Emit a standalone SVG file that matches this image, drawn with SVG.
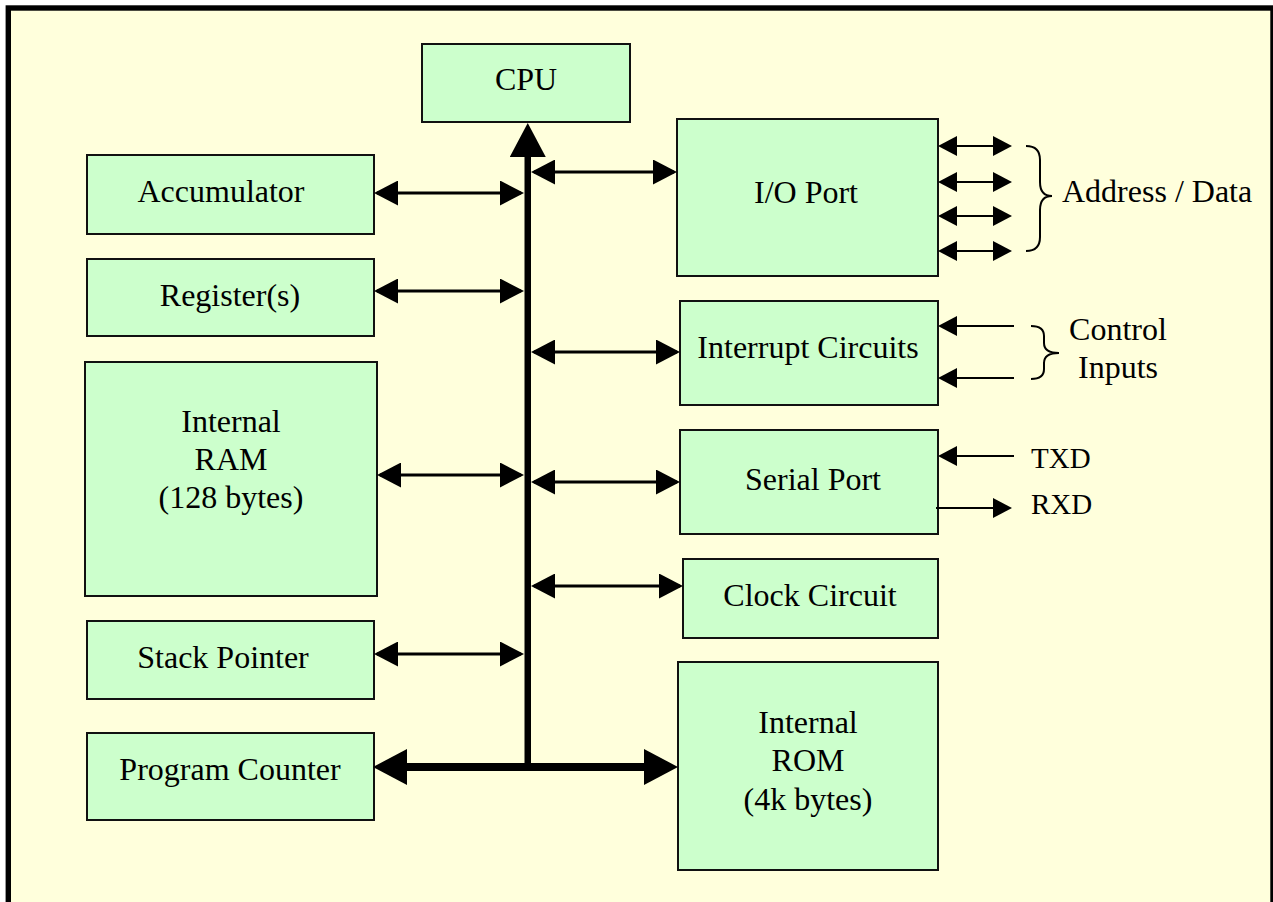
<svg xmlns="http://www.w3.org/2000/svg" width="1273" height="902" viewBox="0 0 1273 902">
<style>
.box{fill:#CCFFCC;stroke:#111;stroke-width:2}
.t{font-family:"Liberation Serif","Times New Roman",serif;font-size:32px;fill:#000;text-anchor:middle}
.ts{font-family:"Liberation Serif","Times New Roman",serif;font-size:29px;fill:#000}
.c3{stroke:#000;stroke-width:3;fill:none}
.c2{stroke:#000;stroke-width:2;fill:none}
.c8{stroke:#000;stroke-width:8;fill:none}
.br{stroke:#000;stroke-width:2;fill:none}
</style>
<defs>
<marker id="m" markerUnits="userSpaceOnUse" markerWidth="24" markerHeight="25" refX="21" refY="12.5" orient="auto-start-reverse"><path d="M0,0 L24,12.5 L0,25 z" fill="#000"/></marker>
<marker id="s" markerUnits="userSpaceOnUse" markerWidth="19" markerHeight="20" refX="17" refY="10" orient="auto-start-reverse"><path d="M0,0 L19,10 L0,20 z" fill="#000"/></marker>
<marker id="L" markerUnits="userSpaceOnUse" markerWidth="34" markerHeight="36" refX="26" refY="18" orient="auto-start-reverse"><path d="M0,0 L34,18 L0,36 z" fill="#000"/></marker>
</defs>
<rect x="0" y="0" width="1273" height="902" fill="#fff"/>
<rect x="8.3" y="8" width="1264.7" height="920" fill="#FFFFDC" stroke="#000" stroke-width="5.4"/>

<g id="cpu"><rect class="box" x="422" y="44" width="208" height="78"/><text class="t" x="526" y="90">CPU</text></g>
<g id="accumulator"><rect class="box" x="87" y="155" width="287" height="79"/><text class="t" x="221" y="202">Accumulator</text></g>
<g id="registers"><rect class="box" x="87" y="259" width="287" height="77"/><text class="t" x="230" y="306">Register(s)</text></g>
<g id="ram"><rect class="box" x="85" y="362" width="292" height="234"/><text class="t" x="231" y="432">Internal</text><text class="t" x="231" y="470">RAM</text><text class="t" x="231" y="508">(128 bytes)</text></g>
<g id="stack-pointer"><rect class="box" x="87" y="621" width="287" height="78"/><text class="t" x="223" y="668">Stack Pointer</text></g>
<g id="program-counter"><rect class="box" x="87" y="733" width="287" height="87"/><text class="t" x="230" y="780">Program Counter</text></g>
<g id="io-port"><rect class="box" x="677" y="119" width="261" height="157"/><text class="t" x="806" y="203">I/O Port</text></g>
<g id="interrupt"><rect class="box" x="680" y="301" width="258" height="104"/><text class="t" x="808" y="358">Interrupt Circuits</text></g>
<g id="serial-port"><rect class="box" x="680" y="430" width="258" height="104"/><text class="t" x="813" y="490">Serial Port</text></g>
<g id="clock"><rect class="box" x="683" y="559" width="255" height="79"/><text class="t" x="810" y="606">Clock Circuit</text></g>
<g id="rom"><rect class="box" x="678" y="662" width="260" height="208"/><text class="t" x="808" y="733">Internal</text><text class="t" x="808" y="771">ROM</text><text class="t" x="808" y="810">(4k bytes)</text></g>

<g id="labels">
<text class="t" x="1062" y="202" style="text-anchor:start">Address / Data</text>
<text class="t" x="1118" y="340">Control</text>
<text class="t" x="1118" y="378">Inputs</text>
<text class="ts" x="1031" y="468">TXD</text>
<text class="ts" x="1031" y="514">RXD</text>
</g>

<g id="connectors">
<line x1="527.75" y1="771" x2="527.75" y2="131" stroke="#000" stroke-width="6.5" marker-end="url(#L)"/>
<line class="c8" x1="381" y1="767" x2="670" y2="767" marker-start="url(#L)" marker-end="url(#L)"/>
<line class="c3" x1="377" y1="193" x2="521" y2="193" marker-start="url(#m)" marker-end="url(#m)"/>
<line class="c3" x1="377" y1="291" x2="521" y2="291" marker-start="url(#m)" marker-end="url(#m)"/>
<line class="c3" x1="380" y1="475" x2="521" y2="475" marker-start="url(#m)" marker-end="url(#m)"/>
<line class="c3" x1="377" y1="654" x2="521" y2="654" marker-start="url(#m)" marker-end="url(#m)"/>
<line class="c3" x1="534" y1="172" x2="674" y2="172" marker-start="url(#m)" marker-end="url(#m)"/>
<line class="c3" x1="534" y1="352" x2="677" y2="352" marker-start="url(#m)" marker-end="url(#m)"/>
<line class="c3" x1="534" y1="482" x2="677" y2="482" marker-start="url(#m)" marker-end="url(#m)"/>
<line class="c3" x1="534" y1="586" x2="680" y2="586" marker-start="url(#m)" marker-end="url(#m)"/>
<line class="c2" x1="940" y1="146" x2="1010" y2="146" marker-start="url(#s)" marker-end="url(#s)"/>
<line class="c2" x1="940" y1="182" x2="1010" y2="182" marker-start="url(#s)" marker-end="url(#s)"/>
<line class="c2" x1="940" y1="216" x2="1010" y2="216" marker-start="url(#s)" marker-end="url(#s)"/>
<line class="c2" x1="940" y1="251" x2="1010" y2="251" marker-start="url(#s)" marker-end="url(#s)"/>
<line class="c2" x1="1014" y1="326" x2="940" y2="326" marker-end="url(#s)"/>
<line class="c2" x1="1014" y1="378" x2="940" y2="378" marker-end="url(#s)"/>
<line class="c2" x1="1014" y1="456" x2="940" y2="456" marker-end="url(#s)"/>
<line class="c2" x1="936" y1="508" x2="1010" y2="508" marker-end="url(#s)"/>
<path class="br" d="M1026,146 Q1040,146 1040,160 L1040,182 Q1040,196 1052,196 Q1040,196 1040,210 L1040,237 Q1040,251 1026,251"/>
<path class="br" d="M1031,326 Q1044,326 1044,336 L1044,343 Q1044,353 1059,353 Q1044,353 1044,363 L1044,369 Q1044,379 1031,379"/>
</g>
</svg>
